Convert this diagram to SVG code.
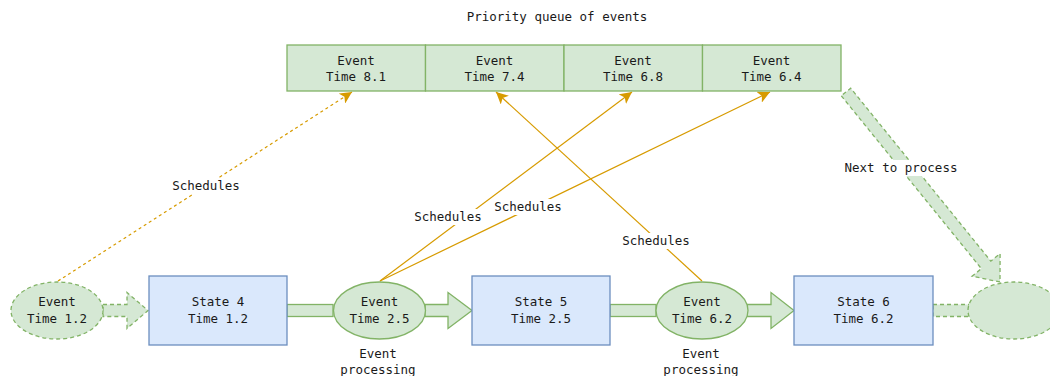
<svg xmlns="http://www.w3.org/2000/svg" width="1050" height="376" viewBox="0 0 1050 376">
<style>
text{font-family:"DejaVu Sans Mono","Liberation Mono",monospace;font-size:12.5px;fill:#1a1a1a;text-anchor:middle}
.g{fill:#d5e8d4;stroke:#82b366;stroke-width:1.3}
.gd{fill:#d5e8d4;stroke:#82b366;stroke-width:1.3;stroke-dasharray:4 3}
.b{fill:#dae8fc;stroke:#6c8ebf;stroke-width:1.3}
.o{stroke:#d79b00;stroke-width:1.2;fill:none;marker-end:url(#ah)}
.lb{fill:#fff;stroke:none}
</style>
<defs>
<marker id="ah" markerUnits="userSpaceOnUse" markerWidth="14" markerHeight="12" viewBox="0 0 14 12" refX="12" refY="6" orient="auto">
<path d="M0,0 L12,6 L0,12 L3,6 Z" fill="#d79b00"/>
</marker>
</defs>
<rect width="1050" height="376" fill="#fff"/>
<text x="557" y="21">Priority queue of events</text>
<g id="connectors">
<polygon class="gd" points="103,304.5 127,304.5 127,292.5 148,310.5 127,328.5 127,316.5 103,316.5"/>
<rect class="g" x="287" y="304.5" width="46" height="12"/>
<polygon class="g" points="425,304.5 448,304.5 448,292.5 472,310.5 448,328.5 448,316.5 425,316.5"/>
<rect class="g" x="610" y="304.5" width="46" height="12"/>
<polygon class="g" points="747,304.5 771,304.5 771,292.5 794,310.5 771,328.5 771,316.5 747,316.5"/>
<rect class="gd" x="933" y="304.5" width="36" height="12"/>
<polygon class="gd" points="841.3,95.8 981.4,268.7 972.1,276.2 1000,282 1000.1,253.6 990.8,261.1 850.7,88.2"/>
<rect class="lb" x="843" y="160" width="116" height="16"/>
<text x="901" y="172">Next to process</text>
<line class="o" x1="58" y1="281" x2="352" y2="92" stroke-dasharray="3 3"/>
<line class="o" x1="380" y1="281" x2="632" y2="92"/>
<line class="o" x1="380" y1="281" x2="770" y2="92"/>
<line class="o" x1="702" y1="281" x2="496" y2="92"/>
<rect class="lb" x="170" y="178" width="72" height="16"/>
<text x="206" y="190">Schedules</text>
<rect class="lb" x="412" y="209" width="72" height="16"/>
<text x="448" y="221">Schedules</text>
<rect class="lb" x="492" y="199" width="72" height="16"/>
<text x="528" y="211">Schedules</text>
<rect class="lb" x="620" y="233" width="72" height="16"/>
<text x="656" y="245">Schedules</text>
</g>
<g id="q81"><rect class="g" x="287" y="45" width="138.5" height="46"/><text x="356" y="64.5">Event</text><text x="356" y="81">Time 8.1</text></g>
<g id="q74"><rect class="g" x="425.5" y="45" width="138.5" height="46"/><text x="494.5" y="64.5">Event</text><text x="494.5" y="81">Time 7.4</text></g>
<g id="q68"><rect class="g" x="564" y="45" width="138.5" height="46"/><text x="633" y="64.5">Event</text><text x="633" y="81">Time 6.8</text></g>
<g id="q64"><rect class="g" x="702.5" y="45" width="138.5" height="46"/><text x="771.5" y="64.5">Event</text><text x="771.5" y="81">Time 6.4</text></g>
<g id="e12"><ellipse class="gd" cx="57" cy="310.5" rx="46" ry="28.5"/><text x="57" y="306">Event</text><text x="57" y="323">Time 1.2</text></g>
<g id="s4"><rect class="b" x="149" y="276" width="138" height="69"/><text x="218" y="306">State 4</text><text x="218" y="323">Time 1.2</text></g>
<g id="e25"><ellipse class="g" cx="379.5" cy="310.5" rx="46" ry="28.5"/><text x="379.5" y="306">Event</text><text x="379.5" y="323">Time 2.5</text><text x="378" y="357.5">Event</text><text x="378" y="373.5">processing</text></g>
<g id="s5"><rect class="b" x="472" y="276" width="138" height="69"/><text x="541" y="306">State 5</text><text x="541" y="323">Time 2.5</text></g>
<g id="e62"><ellipse class="g" cx="702" cy="310.5" rx="46" ry="28.5"/><text x="702" y="306">Event</text><text x="702" y="323">Time 6.2</text><text x="701" y="357.5">Event</text><text x="701" y="373.5">processing</text></g>
<g id="s6"><rect class="b" x="794" y="276" width="139" height="69"/><text x="863.5" y="306">State 6</text><text x="863.5" y="323">Time 6.2</text></g>
<g id="enext"><ellipse class="gd" cx="1014" cy="310.5" rx="46" ry="28.5"/></g>
</svg>
